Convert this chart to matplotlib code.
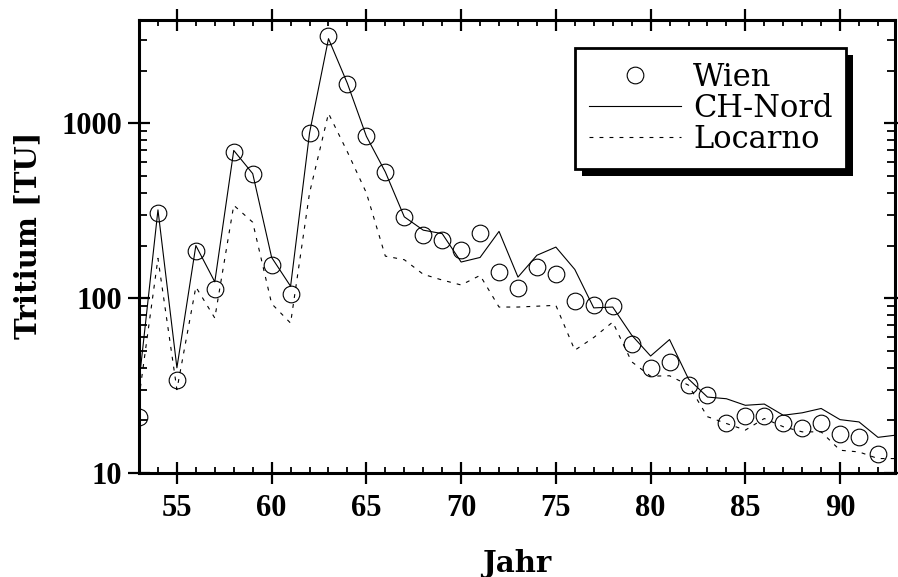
import matplotlib
matplotlib.use('Agg')
import matplotlib.pyplot as plt
from matplotlib.patches import Rectangle
from matplotlib.ticker import MultipleLocator, LogLocator, NullFormatter, FixedLocator, FuncFormatter

# Wien measurements (circles), one per year 53..92
wien_years = list(range(53, 93))
wien = [21, 309, 34, 186, 113, 685, 516, 155, 106, 881,
        3180, 1690, 843, 527, 292, 229, 214, 188, 237, 141,
        115, 150, 138, 96, 91, 90, 55, 40, 43, 32,
        28, 19.2, 21.2, 21.2, 19.2, 18.0, 19.2, 16.7, 16.0, 12.8]

# CH-Nord and Locarno lines, years 53..93 (last one is cut at the axis edge)
line_years = list(range(53, 94))
ch_nord = [33, 320, 40, 200, 124, 700, 516, 171, 117, 881,
           3050, 1690, 843, 527, 292, 245, 234, 161, 171, 241,
           132, 176, 196, 146, 88, 89, 61.5, 46.7, 58, 34.5,
           27.2, 26.6, 24.4, 24.8, 21.4, 22.1, 23.4, 20.2, 19.6, 16.0, 16.5]
locarno = [27, 169, 30, 116, 77, 340, 272, 93, 72, 400,
           1140, 686, 400, 174, 166, 137, 127, 119, 135, 89,
           89, 90, 91, 50.4, 59.6, 73, 43.3, 35.8, 36, 31.8,
           21, 19.2, 17.6, 20.5, 18.4, 17.2, 17.2, 13.5, 13.2, 12.1, 12.1]

x_major = [55, 60, 65, 70, 75, 80, 85, 90]
y_major = [10, 100, 1000]

tick_font = {'family': 'Liberation Serif', 'weight': 'bold', 'size': 22}
label_font = {'family': 'DejaVu Serif', 'weight': 'bold', 'size': 21}
legend_font = {'family': 'DejaVu Serif', 'size': 22}


def add_shadow(fig, ax, leg, off=7):
    # black drop shadow behind the legend box, offset right/down in pixels
    fig.canvas.draw()
    bb = leg.get_frame().get_window_extent()
    inv = ax.transAxes.inverted()
    (x0, y0) = inv.transform((bb.x0 + off, bb.y0 - off))
    (x1, y1) = inv.transform((bb.x1 + off, bb.y1 - off))
    shadow = Rectangle((x0, y0), x1 - x0, y1 - y0, transform=ax.transAxes,
                       facecolor='black', edgecolor='none', zorder=4.9, clip_on=False)
    ax.add_patch(shadow)


def draw_graph(destination):
    fig = plt.figure(figsize=(8.98, 5.77), dpi=100)
    ax = fig.add_axes([0.1548, 0.1802, 0.8419, 0.7851])

    ax.plot(wien_years, wien, linestyle='none', marker='o', markersize=12,
            markerfacecolor='none', markeredgecolor='black', markeredgewidth=0.8,
            label='Wien', zorder=3)
    ax.plot(line_years, ch_nord, color='black', linewidth=0.8, label='CH-Nord')
    ax.plot(line_years, locarno, color='black', linewidth=0.8,
            linestyle=(0, (3.5, 5.5)), label='Locarno')

    ax.set_yscale('log')
    ax.set_xlim(53, 92.9)
    ax.set_ylim(10, 3900)

    ax.xaxis.set_major_locator(FixedLocator(x_major))
    ax.xaxis.set_minor_locator(MultipleLocator(1))
    ax.yaxis.set_major_locator(FixedLocator(y_major))
    ax.yaxis.set_minor_locator(LogLocator(base=10, subs=range(2, 10)))
    ax.yaxis.set_minor_formatter(NullFormatter())
    ax.yaxis.set_major_formatter(FuncFormatter(lambda v, p: f"{v:g}"))

    for s in ax.spines.values():
        s.set_linewidth(2.2)

    ax.tick_params(which='major', direction='inout', length=16, width=1.6,
                   top=True, right=True)
    ax.tick_params(axis='x', which='major', pad=7)
    ax.tick_params(axis='y', which='major', pad=4)
    ax.tick_params(axis='x', which='minor', direction='in', length=4.5, width=1.3,
                   top=True)
    ax.tick_params(axis='y', which='minor', direction='in', length=5.8, width=1.3,
                   right=True)

    for lab in ax.get_xticklabels() + ax.get_yticklabels():
        lab.set_fontproperties(tick_font)

    ax.set_xlabel('Jahr', fontdict=label_font)
    ax.set_ylabel('Tritium [TU]', fontdict=label_font)
    ax.xaxis.set_label_coords(0.5, -0.168)
    ax.yaxis.set_label_coords(-0.128, 0.525)

    leg = ax.legend(loc='upper left', bbox_to_anchor=(0.577, 0.938), borderaxespad=0,
                    frameon=True, fancybox=False, framealpha=1, edgecolor='black',
                    prop=legend_font, handlelength=3.0, handletextpad=0.4,
                    labelspacing=0.0, borderpad=0.45, numpoints=1)
    leg.get_frame().set_linewidth(2)
    leg.set_zorder(5)

    add_shadow(fig, ax, leg)

    fig.savefig(destination, dpi=100)
    plt.close(fig)


draw_graph('out.png')
